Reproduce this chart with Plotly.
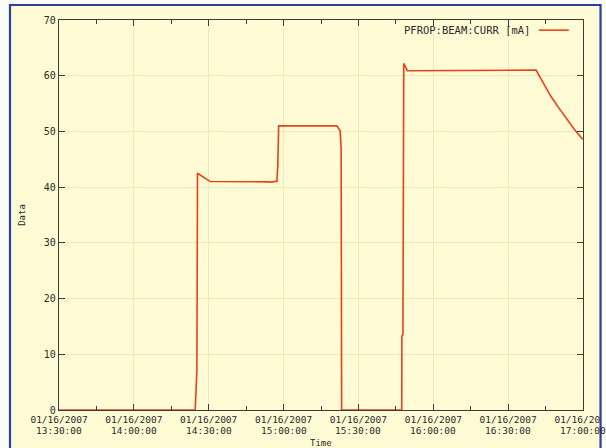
import plotly.graph_objects as go

# Beam current archive, 01/16/2007
times = [
    "2007-01-16 13:30:00", "2007-01-16 14:24:35", "2007-01-16 14:25:16",
    "2007-01-16 14:25:30", "2007-01-16 14:30:36", "2007-01-16 14:40:00",
    "2007-01-16 14:46:00", "2007-01-16 14:50:00", "2007-01-16 14:52:00",
    "2007-01-16 14:54:00", "2007-01-16 14:55:30", "2007-01-16 14:56:30",
    "2007-01-16 14:57:18", "2007-01-16 14:57:42", "2007-01-16 14:58:02",
    "2007-01-16 15:21:20", "2007-01-16 15:22:40", "2007-01-16 15:23:04",
    "2007-01-16 15:23:16", "2007-01-16 15:47:22", "2007-01-16 15:47:25",
    "2007-01-16 15:47:50", "2007-01-16 15:48:10", "2007-01-16 15:49:36",
    "2007-01-16 16:41:11", "2007-01-16 16:43:00", "2007-01-16 16:45:00",
    "2007-01-16 16:47:00", "2007-01-16 16:50:00", "2007-01-16 16:53:15",
    "2007-01-16 16:56:30", "2007-01-16 16:59:50",
]
current_ma = [
    0.0, 0.0, 7.2,
    42.5, 41.0, 41.0,
    41.05, 40.95, 41.05,
    40.95, 40.9, 41.05,
    41.0, 44.0, 51.0,
    51.0, 50.1, 47.0,
    0.0, 0.0, 13.3,
    13.5, 62.2, 60.9,
    61.0, 59.6, 58.0,
    56.4, 54.4, 52.4,
    50.4, 48.6,
]

series_name = "PFROP:BEAM:CURR [mA]"
tick_times = [
    "2007-01-16 13:30:00", "2007-01-16 14:00:00", "2007-01-16 14:30:00",
    "2007-01-16 15:00:00", "2007-01-16 15:30:00", "2007-01-16 16:00:00",
    "2007-01-16 16:30:00", "2007-01-16 17:00:00",
]
date_labels = ["01/16/2007"] * len(tick_times)
clock_labels = [
    "13:30:00", "14:00:00", "14:30:00", "15:00:00",
    "15:30:00", "16:00:00", "16:30:00", "17:00:00",
]
y_ticks = [0, 10, 20, 30, 40, 50, 60, 70]

LINE = "#e8421c"
PANEL = "#fffbd4"
FRAME = "#2b3f9e"
AXIS = "#3a3a3a"
GRID = "#f0e8bb"
TEXT = "#2a2a2a"
FONT = dict(family="DejaVu Sans Mono", size=10, color=TEXT)
XFONT = dict(family="DejaVu Sans Mono", size=9.5, color=TEXT)
TITLE_FONT = dict(family="DejaVu Sans Mono", size=9, color=TEXT)

fig = go.Figure()
fig.add_trace(go.Scatter(
    x=times, y=current_ma, mode="lines", name=series_name,
    line=dict(color=LINE, width=1.6), showlegend=False,
))

axis_common = dict(
    showline=True, linecolor=AXIS, linewidth=1.2, mirror="ticks",
    ticks="inside", tickcolor=AXIS, tickwidth=1, ticklen=6,
    showgrid=True, gridcolor=GRID, gridwidth=1,
    zeroline=False, automargin=False,
)

# Date line of the time labels comes from the axis ticks
fig.update_xaxes(
    type="date",
    range=[tick_times[0], tick_times[-1]],
    tickmode="array", tickvals=tick_times, ticktext=date_labels,
    tickfont=XFONT, ticklabeloverflow="allow", ticklabelstandoff=0,
    minor=dict(dtick=15 * 60 * 1000, ticks="inside", ticklen=4,
               tickcolor=AXIS, showgrid=False),
    **axis_common,
)
fig.update_yaxes(
    range=[0, 70], tickmode="array", tickvals=y_ticks, tickfont=FONT,
    title=dict(text="Data", font=TITLE_FONT, standoff=16),
    **axis_common,
)

# Clock line of the time labels, set under each tick
for t, clock in zip(tick_times, clock_labels):
    fig.add_annotation(x=t, xref="x", y=-0.0538, yref="paper",
                       text=clock, showarrow=False, font=XFONT,
                       xanchor="center", yanchor="middle")
fig.add_annotation(x=0.5, xref="paper", y=-0.0855, yref="paper",
                   text="Time", showarrow=False, font=TITLE_FONT,
                   xanchor="center", yanchor="middle")

# Series key in the upper right of the plot
fig.add_annotation(
    xref="paper", yref="paper", x=0.903, y=0.974, xanchor="right", yanchor="middle",
    text=series_name, showarrow=False,
    font=dict(family="DejaVu Sans Mono", size=10.5, color=TEXT),
)
fig.add_shape(type="line", xref="paper", yref="paper", x0=0.916, x1=0.973, y0=0.974, y1=0.974,
              line=dict(color=LINE, width=1.6))

# Window frame around the chart
fig.add_shape(type="rect", xref="paper", yref="paper", x0=-0.0935, x1=1.0335, y0=-0.2, y1=1.0385,
              fillcolor=PANEL, line=dict(width=0), layer="below")
fig.add_shape(type="rect", xref="paper", yref="paper", x0=1.0335, x1=1.2, y0=-0.3, y1=1.2,
              fillcolor="#fbfbf8", line=dict(width=0), layer="above")
fig.add_shape(type="rect", xref="paper", yref="paper", x0=-0.0935, x1=1.0335, y0=-0.2, y1=1.0385,
              fillcolor="rgba(0,0,0,0)", line=dict(color=FRAME, width=2.2), layer="above")

fig.update_layout(
    width=606, height=448,
    margin=dict(l=59, r=23, t=20, b=38),
    paper_bgcolor="#fbfbf8", plot_bgcolor=PANEL,
    font=FONT,
)

fig.write_html("out.html")
